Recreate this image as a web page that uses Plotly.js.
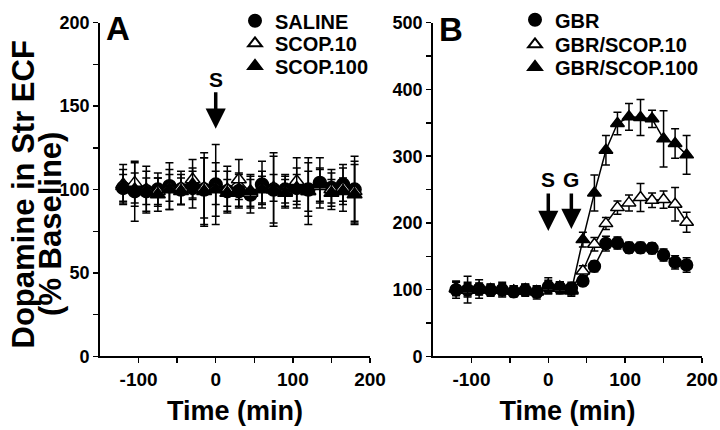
<!DOCTYPE html>
<html><head><meta charset="utf-8">
<script src="https://cdn.plot.ly/plotly-3.0.1.min.js"></script>
<style>html,body{margin:0;padding:0;background:#fff}#chart{width:720px;height:430px}</style>
</head><body><div id="chart"></div><script>
const time = [-120,-105,-90,-75,-60,-45,-30,-15,0,15,30,45,60,75,90,105,120,135,150,165,180];

// Tick labels
const xTickVals = [-100, 0, 100, 200];
const xTickText = ['-100', '0', '100', '200'];
const yTickValsA = [0, 50, 100, 150, 200];
const yTickTextA = ['0', '50', '100', '150', '200'];
const yTickValsB = [0, 100, 200, 300, 400, 500];
const yTickTextB = ['0', '100', '200', '300', '400', '500'];

// Panel A
const saline      = [101,99,99,100,102,100,101,100,103,99,99,97,103,100,100,101,100,104,101,103,100];
const salineErr   = [8,18,12,10,14,9,12,22,24,12,10,11,14,22,8,12,16,15,9,10,20];
const scop10      = [103,104,100,99,101,101,106,101,101,100,106,98,101,101,99,105,99,102,100,101,99];
const scop10Err   = [12,12,14,8,8,10,12,18,10,14,12,8,10,8,10,14,12,10,12,14,18];
const scop100     = [102,100,99,97,100,99,103,99,100,98,100,99,100,100,98,101,99,103,98,99,97];
const scop100Err  = [10,10,8,10,12,8,8,20,16,8,10,10,8,20,8,8,20,10,8,8,18];

// Panel B
const gbr         = [100,100,101,99,100,97,99,96,104,103,102,113,135,169,170,163,163,162,152,141,137];
const gbrErr      = [13,20,14,9,11,8,9,10,10,9,9,7,8,11,9,8,8,8,9,10,11];
const gbrScop10   = [102,99,102,100,101,98,100,97,104,102,100,128,168,199,223,230,238,234,235,228,201];
const gbrScop10Err= [10,10,8,8,8,8,8,8,8,8,8,8,10,9,10,12,21,11,13,25,15];
const gbrScop100  = [101,101,100,100,99,98,100,97,106,104,98,175,245,309,349,359,358,356,326,319,302];
const gbrScop100Err=[10,10,8,8,8,8,8,8,12,8,8,11,27,22,17,20,27,13,42,22,29];

const FONT = 'Liberation Sans, Arial, sans-serif';
const bold = s => '<b>' + s + '</b>';
function lineTr(y, xa, ya) {
  return {x: time, y: y, type: 'scatter', mode: 'lines', xaxis: xa, yaxis: ya, showlegend: false,
    hoverinfo: 'skip', line: {color: '#000', width: 1.5}};
}
function markTr(name, y, err, sym, fill, xa, ya, leg, msize) {
  return {
    x: time, y: y, name: bold(name), type: 'scatter', mode: 'markers',
    xaxis: xa, yaxis: ya, legend: leg,
    marker: {symbol: sym, size: msize, color: fill, line: {color: '#000', width: 1.5}},
    error_y: {type: 'data', array: err, visible: true, color: '#000', thickness: 1.5, width: 4}
  };
}
const data = [
  lineTr(saline, 'x', 'y'), lineTr(scop10, 'x', 'y'), lineTr(scop100, 'x', 'y'),
  lineTr(gbr, 'x2', 'y2'), lineTr(gbrScop10, 'x2', 'y2'), lineTr(gbrScop100, 'x2', 'y2'),
  markTr('SALINE', saline, salineErr, 'circle', '#000', 'x', 'y', 'legend', 13),
  markTr('SCOP.10', scop10, scop10Err, 'triangle-up', '#fff', 'x', 'y', 'legend2', 13),
  markTr('SCOP.100', scop100, scop100Err, 'triangle-up', '#000', 'x', 'y', 'legend3', 13),
  markTr('GBR', gbr, gbrErr, 'circle', '#000', 'x2', 'y2', 'legend4', 12),
  markTr('GBR/SCOP.10', gbrScop10, gbrScop10Err, 'triangle-up', '#fff', 'x2', 'y2', 'legend5', 12),
  markTr('GBR/SCOP.100', gbrScop100, gbrScop100Err, 'triangle-up', '#000', 'x2', 'y2', 'legend6', 12)
];

function xax(dom, anchor) {
  return {domain: dom, anchor: anchor, range: [-150, 200],
    tickmode: 'array', tickvals: xTickVals, ticktext: xTickText.map(bold),
    color: '#000',
    ticks: 'outside', ticklen: 5, tickwidth: 1.5, tickcolor: '#000',
    minor: {tickvals: [-50, 50, 150], ticks: 'outside', ticklen: 5, tickwidth: 1.5, tickcolor: '#000'},
    showline: true, linecolor: '#000', linewidth: 1.8, showgrid: false, zeroline: false,
    tickfont: {family: FONT, size: 19, color: '#000'},
    title: {text: bold('Time (min)'), font: {family: FONT, size: 27, color: '#000'}, standoff: 12}};
}
function yax(dom, anchor, max, vals, txt, minorDt) {
  return {domain: dom, anchor: anchor, range: [0, max],
    tickmode: 'array', tickvals: vals, ticktext: txt.map(bold),
    color: '#000',
    ticks: 'outside', ticklen: 5, tickwidth: 1.5, tickcolor: '#000',
    minor: {dtick: minorDt, tick0: 0, ticks: 'outside', ticklen: 5, tickwidth: 1.5, tickcolor: '#000'},
    showline: true, linecolor: '#000', linewidth: 1.8, showgrid: false, zeroline: false,
    tickfont: {family: FONT, size: 18, color: '#000'}};
}
const ydom = [0.1744, 0.9651];
const legFont = {family: FONT, size: 20, color: '#000'};
function leg(xpx, ypx) {
  return {x: xpx / 720, y: 1 - ypx / 430, xanchor: 'left', yanchor: 'middle', font: legFont,
    bgcolor: 'rgba(0,0,0,0)', itemsizing: 'constant'};
}
const layout = {
  width: 720, height: 430,
  margin: {l: 0, r: 0, t: 0, b: 0},
  paper_bgcolor: '#fff', plot_bgcolor: '#fff',
  showlegend: true,
  xaxis: xax([0.1389, 0.5139], 'y'),
  yaxis: yax(ydom, 'x', 200, yTickValsA, yTickTextA, 25),
  xaxis2: xax([0.6014, 0.975], 'y2'),
  yaxis2: yax(ydom, 'x2', 500, yTickValsB, yTickTextB, 50),
  legend: leg(235, 13), legend2: leg(235, 36), legend3: leg(235, 59),
  legend4: leg(515, 12), legend5: leg(515, 37), legend6: leg(515, 60),
  annotations: [
    {xref: 'paper', yref: 'paper', x: 23/720, y: 1 - 190/430, xanchor: 'center', yanchor: 'middle',
     text: bold('Dopamine in Str ECF'), textangle: -90,
     showarrow: false, font: {family: FONT, size: 31, color: '#000'}},
    {xref: 'paper', yref: 'paper', x: 51/720, y: 1 - 220/430, xanchor: 'center', yanchor: 'middle',
     text: bold('(% Baseline)'), textangle: -90,
     showarrow: false, font: {family: FONT, size: 31, color: '#000'}},
    {xref: 'paper', yref: 'paper', x: 118/720, y: 1 - 21/430, xanchor: 'center', yanchor: 'middle',
     text: bold('A'), showarrow: false, font: {family: FONT, size: 33, color: '#000'}},
    {xref: 'paper', yref: 'paper', x: 451/720, y: 1 - 22/430, xanchor: 'center', yanchor: 'middle',
     text: bold('B'), showarrow: false, font: {family: FONT, size: 33, color: '#000'}},
    {xref: 'x', yref: 'y', x: 0, y: 166, text: bold('S'), showarrow: false, xanchor: 'center',
     font: {family: FONT, size: 21, color: '#000'}},
    {xref: 'x', yref: 'y', x: 0, y: 136.5, text: '', showarrow: true, ax: 0, ay: -38,
     arrowhead: 2, arrowsize: 1.15, arrowwidth: 3.5, arrowcolor: '#000'},
    {xref: 'x2', yref: 'y2', x: 0, y: 265, text: bold('S'), showarrow: false, xanchor: 'center',
     font: {family: FONT, size: 21, color: '#000'}},
    {xref: 'x2', yref: 'y2', x: 30, y: 265, text: bold('G'), showarrow: false, xanchor: 'center',
     font: {family: FONT, size: 21, color: '#000'}},
    {xref: 'x2', yref: 'y2', x: 0, y: 188, text: '', showarrow: true, ax: 0, ay: -39,
     arrowhead: 2, arrowsize: 1.15, arrowwidth: 3.5, arrowcolor: '#000'},
    {xref: 'x2', yref: 'y2', x: 30, y: 191, text: '', showarrow: true, ax: 0, ay: -37,
     arrowhead: 2, arrowsize: 1.15, arrowwidth: 3.5, arrowcolor: '#000'}
  ]
};
Plotly.newPlot('chart', data, layout, {displayModeBar: false, staticPlot: true});
</script></body></html>
